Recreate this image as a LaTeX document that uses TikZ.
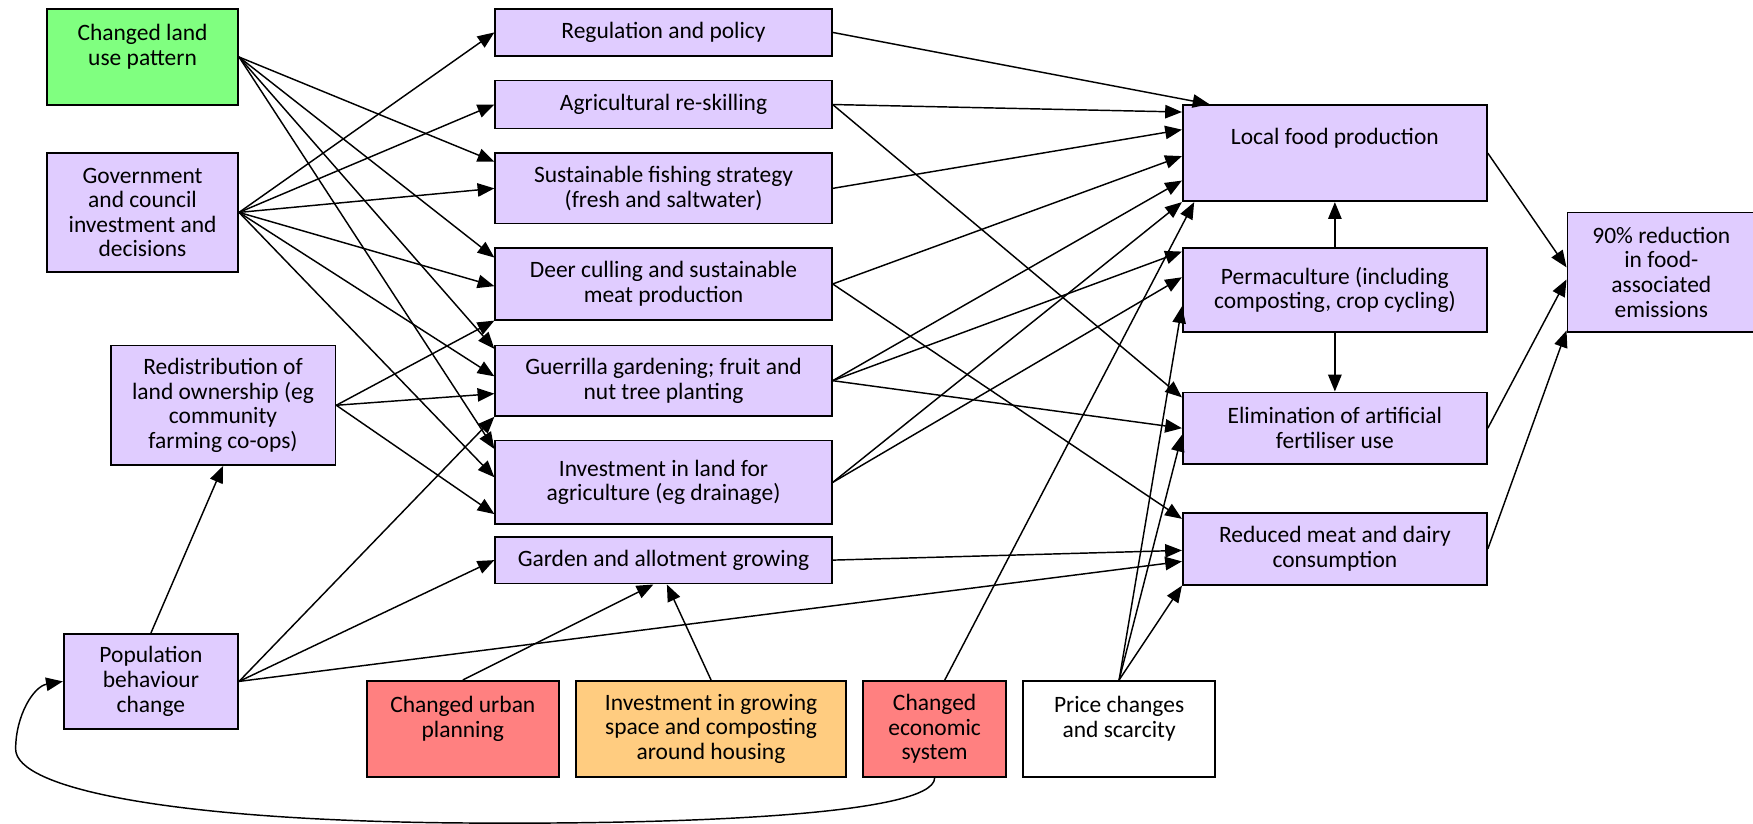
\documentclass[tikz,border=0pt]{standalone}
\usepackage{fontspec}
\setmainfont{Carlito}
\usetikzlibrary{arrows.meta,calc}
\definecolor{lilac}{RGB}{224,204,255}
\definecolor{leaf}{RGB}{128,255,128}
\definecolor{salmon}{RGB}{255,128,128}
\definecolor{apricot}{RGB}{255,204,128}
\begin{document}
\begin{tikzpicture}[x=0.5pt,y=-0.5pt,
  box/.style={draw=black,line width=0.8pt,fill=lilac,align=center,inner sep=0pt,
    font=\fontsize{10.5}{11}\selectfont},
  link/.style={line width=0.65pt,-{Triangle[length=7.5pt,width=6pt]}}]
\useasboundingbox (0,0) rectangle (1568,737);

% left column
\node[box,fill=leaf,minimum width=85.5pt,minimum height=43pt] (cl) at (127.5,51) {Changed land\\use pattern\\\mbox{}};
\node[box,minimum width=85.5pt,minimum height=53pt] (gov) at (127.5,190) {Government\\and council\\investment and\\decisions};
\node[box,minimum width=100.5pt,minimum height=53.5pt] (redis) at (199.5,362.5) {Redistribution of\\land ownership (eg\\community\\farming co-ops)};
\node[box,minimum width=78pt,minimum height=42.5pt] (pop) at (135,609.5) {Population\\behaviour\\change};

% middle column
\node[box,minimum width=150.5pt,minimum height=21pt] (reg) at (593.5,29) {Regulation and policy};
\node[box,minimum width=150.5pt,minimum height=21.5pt] (agri) at (593.5,93.5) {Agricultural re-skilling};
\node[box,minimum width=150.5pt,minimum height=31.5pt] (fish) at (593.5,168.5) {Sustainable fishing strategy\\(fresh and saltwater)};
\node[box,minimum width=150.5pt,minimum height=32pt] (deer) at (593.5,254) {Deer culling and sustainable\\meat production};
\node[box,minimum width=150.5pt,minimum height=31.5pt] (guer) at (593.5,340.5) {Guerrilla gardening; fruit and\\nut tree planting};
\node[box,minimum width=150.5pt,minimum height=37.5pt] (invl) at (593.5,431.5) {Investment in land for\\agriculture (eg drainage)};
\node[box,minimum width=150.5pt,minimum height=21pt] (gard) at (593.5,501) {Garden and allotment growing};

% right column
\node[box,minimum width=136pt,minimum height=43pt] (local) at (1194,137) {Local food production\\[4pt]\mbox{}};
\node[box,minimum width=136pt,minimum height=37.5pt] (perm) at (1194,259.5) {Permaculture (including\\composting, crop cycling)};
\node[box,minimum width=136pt,minimum height=32pt] (elim) at (1194,383) {Elimination of artificial\\fertiliser use};
\node[box,minimum width=136pt,minimum height=32pt] (meat) at (1194,491) {Reduced meat and dairy\\consumption};
\node[box,minimum width=84pt,minimum height=53.5pt] (red90) at (1486,243.5) {90\% reduction\\in food-\\associated\\emissions};

% bottom row
\node[box,fill=salmon,minimum width=86pt,minimum height=43pt] (urban) at (414,652) {Changed urban\\planning\\\mbox{}};
\node[box,fill=apricot,minimum width=121pt,minimum height=43pt] (invg) at (636,652) {Investment in growing\\space and composting\\around housing};
\node[box,fill=salmon,minimum width=64pt,minimum height=43pt] (econ) at (836,652) {Changed\\economic\\system};
\node[box,fill=white,minimum width=86pt,minimum height=43pt] (price) at (1001,652) {Price changes\\and scarcity\\\mbox{}};

% government and council
\draw[link] (gov.east) -- (reg.west);
\draw[link] (gov.east) -- (agri.west);
\draw[link] (gov.east) -- (fish.west);
\draw[link] (gov.east) -- ($(deer.north west)!.53!(deer.south west)$);
\draw[link] (gov.east) -- ($(guer.north west)!.44!(guer.south west)$);
\draw[link] (gov.east) -- ($(invl.north west)!.44!(invl.south west)$);

% changed land use
\draw[link] (cl.east) -- ($(fish.north west)!.13!(fish.south west)$);
\draw[link] (cl.east) -- ($(deer.north west)!.14!(deer.south west)$);
\draw[link] (cl.east) -- ($(guer.north west)!.06!(guer.south west)$);
\draw[link] (cl.east) -- ($(invl.north west)!.11!(invl.south west)$);

% redistribution
\draw[link] (redis.east) -- (deer.south west);
\draw[link] (redis.east) -- ($(guer.north west)!.68!(guer.south west)$);
\draw[link] (redis.east) -- ($(invl.north west)!.87!(invl.south west)$);

% population behaviour
\draw[link] (pop.north) -- (redis.south);
\draw[link] (pop.east) -- (guer.south west);
\draw[link] (pop.east) -- (gard.west);
\draw[link] (pop.east) -- ($(meat.north west)!.67!(meat.south west)$);

% bottom row drivers
\draw[link] (urban.north) -- ($(gard.south west)!.47!(gard.south east)$);
\draw[link] (invg.north) -- ($(gard.south west)!.51!(gard.south east)$);
\draw[link] ($(econ.north west)!.57!(econ.north east)$) -- ($(local.south west)!.04!(local.south east)$);
\draw[link] (econ.south) .. controls (836,730) and (600,738) .. (400,736)
  .. controls (150,733) and (14,705) .. (14,670)
  .. controls (14,640) and (30,614) .. (pop.west);
\draw[link] (price.north) -- ($(perm.north west)!.69!(perm.south west)$);
\draw[link] (price.north) -- ($(elim.north west)!.59!(elim.south west)$);
\draw[link] (price.north) -- (meat.south west);

% middle to right
\draw[link] (reg.east) -- ($(local.north west)!.09!(local.north east)$);
\draw[link] (agri.east) -- ($(local.north west)!.08!(local.south west)$);
\draw[link] (agri.east) -- ($(elim.north west)!.08!(elim.south west)$);
\draw[link] (fish.east) -- ($(local.north west)!.26!(local.south west)$);
\draw[link] (deer.east) -- ($(local.north west)!.53!(local.south west)$);
\draw[link] (deer.east) -- ($(meat.north west)!.09!(meat.south west)$);
\draw[link] (guer.east) -- ($(local.north west)!.78!(local.south west)$);
\draw[link] (guer.east) -- ($(perm.north west)!.05!(perm.south west)$);
\draw[link] (guer.east) -- (elim.west);
\draw[link] (invl.east) -- (local.south west);
\draw[link] (invl.east) -- ($(perm.north west)!.35!(perm.south west)$);
\draw[link] (gard.east) -- ($(meat.north west)!.52!(meat.south west)$);

% right column
\draw[link] (perm.north) -- (local.south);
\draw[link] (perm.south) -- (elim.north);
\draw[link] (local.east) -- ($(red90.north west)!.46!(red90.south west)$);
\draw[link] (elim.east) -- ($(red90.north west)!.56!(red90.south west)$);
\draw[link] (meat.east) -- ($(red90.north west)!.98!(red90.south west)$);
\end{tikzpicture}
\end{document}
